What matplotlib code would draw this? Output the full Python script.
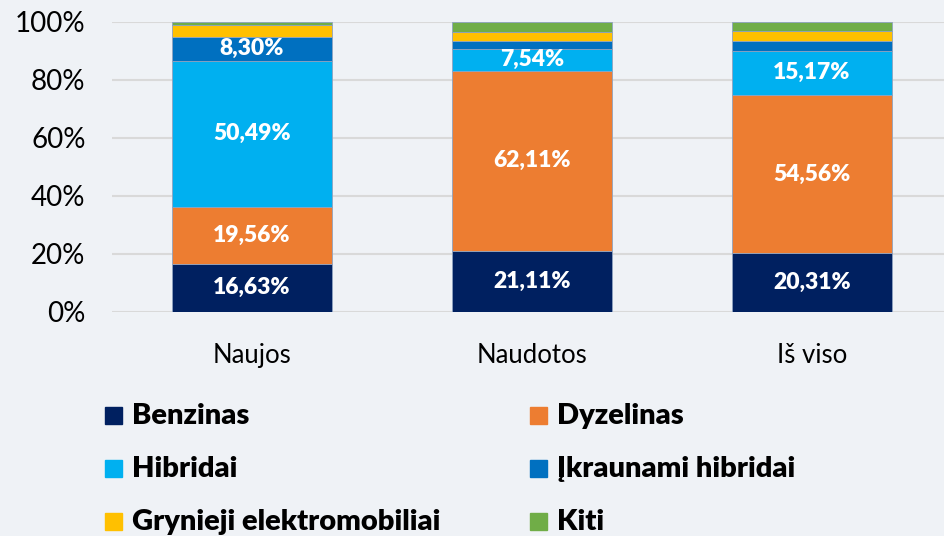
import matplotlib.pyplot as plt
from matplotlib.patches import Rectangle

plt.rcParams['font.family'] = ['Lato', 'DejaVu Sans']

# data (shares in %)
categories = ['Naujos', 'Naudotos', 'Iš viso']
series_names = ['Benzinas', 'Dyzelinas', 'Hibridai', 'Įkraunami hibridai',
                'Grynieji elektromobiliai', 'Kiti']
benzinas = [16.63, 21.11, 20.31]
dyzelinas = [19.56, 62.11, 54.56]
hibridai = [50.49, 7.54, 15.17]
ikraunami = [8.30, 2.55, 3.45]
grynieji = [4.12, 3.25, 3.45]
kiti = [0.90, 3.44, 3.06]
# which segments carry a value label
labelled = [True, True, True, True, False, False]

colors = ['#002060', '#ED7D31', '#00B0F0', '#0070C0', '#FFC000', '#70AD47']
bg = '#EFF2F6'

all_series = [benzinas, dyzelinas, hibridai, ikraunami, grynieji, kiti]

fig = plt.figure(figsize=(9.45, 5.36), dpi=100, facecolor=bg)
ax = fig.add_axes([112 / 945, 1 - 312 / 536, 833 / 945, 290 / 536], facecolor=bg)

x = range(len(categories))
bottoms = [0.0] * len(categories)
for name, vals, col, lab in zip(series_names, all_series, colors, labelled):
    ax.bar(x, vals, width=0.57, bottom=bottoms, color=col, label=name,
           edgecolor='#8FA3C0', linewidth=0.6, zorder=3)
    if lab:
        for i, v in enumerate(vals):
            if i > 0 and name == 'Įkraunami hibridai':
                continue
            txt = f'{v:.2f}'.replace('.', ',') + '%'
            ax.text(i, bottoms[i] + v / 2, txt, ha='center', va='center',
                    color='white', fontsize=16.5, fontweight='heavy', zorder=4)
    bottoms = [b + v for b, v in zip(bottoms, vals)]

ax.set_xlim(-0.5, 2.475)
ax.set_ylim(0, 100)
ax.set_yticks([0, 20, 40, 60, 80, 100])
ax.set_yticklabels([f'{t}%' for t in [0, 20, 40, 60, 80, 100]], fontsize=20)
ax.set_xticks(list(x))
ax.set_xticklabels(categories, fontsize=18.5)
ax.tick_params(axis='y', length=0, pad=19)
ax.tick_params(axis='x', length=0, pad=22)
ax.yaxis.grid(True, color='#D9D9D9', linewidth=1.5, zorder=0)
for s in ax.spines.values():
    s.set_visible(False)

# legend in two columns, row-wise order
for k, (name, col) in enumerate(zip(series_names, colors)):
    row, c = divmod(k, 2)
    xm = (105 + c * 425) / 945
    ym = 1 - (416 + row * 53) / 536
    fig.patches.append(Rectangle((xm, ym - 8 / 536), 17 / 945, 17 / 536,
                                 transform=fig.transFigure, color=col))
    fig.text(xm + 27 / 945, ym, name, fontsize=21, fontweight='heavy',
             va='center', ha='left')

fig.savefig('out.png', dpi=100, facecolor=bg)
